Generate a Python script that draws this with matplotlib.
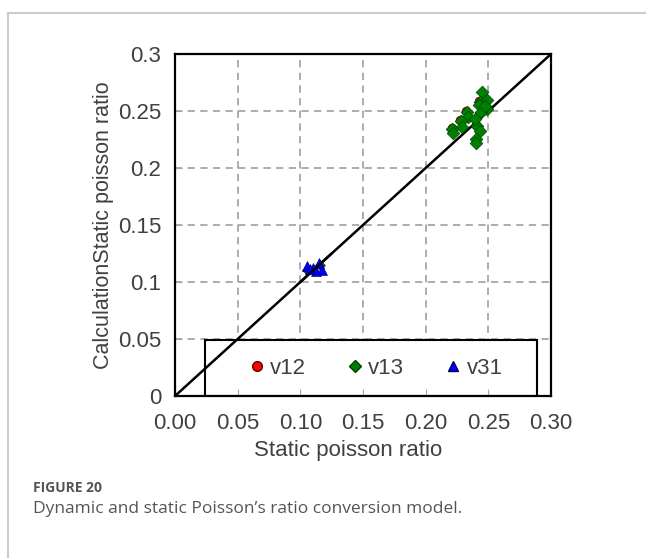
import matplotlib as mpl
import matplotlib.pyplot as plt
from matplotlib.lines import Line2D
from matplotlib.patches import Rectangle

# data
v13_x = [0.2447, 0.2434, 0.2492, 0.2428, 0.2492, 0.2439, 0.2332, 0.2340, 0.2279,
         0.2287, 0.2213, 0.2216, 0.2407, 0.2434, 0.2402, 0.2402, 0.2394, 0.2470]
v13_y = [0.2668, 0.2580, 0.2598, 0.2551, 0.2516, 0.2492, 0.2492, 0.2443, 0.2413,
         0.2360, 0.2340, 0.2311, 0.2369, 0.2325, 0.2252, 0.2223, 0.2428, 0.2540]
v12_x = [0.2425, 0.2325, 0.2277, 0.2210, 0.2400]
v12_y = [0.2588, 0.2500, 0.2420, 0.2347, 0.2375]
v31_x = [0.1056, 0.1104, 0.1151, 0.1171, 0.1125, 0.1080]
v31_y = [0.1138, 0.1124, 0.1167, 0.1109, 0.1094, 0.1110]
v31g_x = [0.1050, 0.1160]
v31g_y = [0.1105, 0.1150]

xticks = [0.00, 0.05, 0.10, 0.15, 0.20, 0.25, 0.30]
yticks = [0, 0.05, 0.1, 0.15, 0.2, 0.25, 0.3]
ytick_labels = ["0", "0.05", "0.1", "0.15", "0.2", "0.25", "0.3"]

mpl.rcParams.update({"font.family": "Liberation Sans", "font.size": 16})
txt = "#404040"

fig = plt.figure(figsize=(6.46, 5.58), dpi=100)
ax = fig.add_axes([175 / 646, 1 - 396 / 558, 376 / 646, 342 / 558])

# grid
for v in xticks[1:-1]:
    ax.axvline(v, color="#a6a6a6", lw=1.3, ls=(0, (4, 3)), zorder=0)
for v in yticks[1:-1]:
    ax.axhline(v, color="#a6a6a6", lw=1.3, ls=(0, (4, 3)), zorder=0)

# legend box (white, drawn under the 1:1 line)
ax.add_patch(Rectangle((30 / 376, 0), 332 / 376, 56 / 342, transform=ax.transAxes,
                       facecolor="white", edgecolor="black", lw=1.5, zorder=1))

# 1:1 line
ax.plot([0, 0.3], [0, 0.3], color="black", lw=1.8, zorder=2)

ax.scatter(v12_x, v12_y, marker="o", s=40, color="red", edgecolor="#600000", lw=0.5, zorder=3)
ax.scatter(v13_x, v13_y, marker="D", s=42, color="green", edgecolor="#004000", lw=0.5, zorder=4)
ax.scatter(v31g_x, v31g_y, marker="D", s=25, color="green", edgecolor="#004000", lw=0.5, zorder=3)
ax.scatter(v31_x, v31_y, marker="^", s=50, color="blue", edgecolor="#000060", lw=0.5, zorder=4)
ax.plot([0.1, 0.125], [0.1, 0.125], color="black", lw=1.8, zorder=5)

ax.set_xlim(0, 0.3)
ax.set_ylim(0, 0.3)
ax.set_xticks(xticks)
ax.set_xticklabels([f"{v:.2f}" for v in xticks])
ax.set_yticks(yticks)
ax.set_yticklabels(ytick_labels)
ax.tick_params(direction="in", length=5, color="#a6a6a6", labelcolor=txt, labelsize=16)
ax.tick_params(axis="x", pad=12)
ax.tick_params(axis="y", pad=10)
for s in ax.spines.values():
    s.set_linewidth(1.6)
    s.set_color("black")
    s.set_zorder(6)

ax.set_xlabel("Static poisson ratio", color=txt, fontsize=16, labelpad=7)
ax.xaxis.set_label_coords((348 - 175) / 376, -0.13)
ax.set_ylabel("CalculationStatic poisson ratio", color=txt, fontsize=15.5, labelpad=3)

handles = [
    Line2D([], [], marker="o", ls="", color="red", markeredgecolor="#600000", markersize=7),
    Line2D([], [], marker="D", ls="", color="green", markeredgecolor="#004000", markersize=6),
    Line2D([], [], marker="^", ls="", color="blue", markeredgecolor="#000060", markersize=7),
]
leg = ax.legend(handles, ["v12", "v13", "v31"], ncol=3, loc="center",
                bbox_to_anchor=((373 - 175) / 376, 28 / 342), frameon=False,
                fontsize=16, handletextpad=0.0, handlelength=1.2,
                labelcolor=txt, columnspacing=1.6)
leg.set_zorder(7)

# outer frame lines of the figure panel
fig.add_artist(Line2D([8 / 646, 1], [1 - 13 / 558] * 2, color="#cccccc", lw=1.5))
fig.add_artist(Line2D([8 / 646] * 2, [0, 1 - 13 / 558], color="#cccccc", lw=1.5))

fig.text(33 / 646, 1 - 488 / 558, "FIGURE 20", color="#555555", fontsize=10,
         fontweight="bold", family="Open Sans", va="center")
fig.text(33 / 646, 1 - 509 / 558, "Dynamic and static Poisson\u2019s ratio conversion model.",
         color="#555555", fontsize=12.5, family="Open Sans", va="center")

fig.savefig("out.png", dpi=100)
